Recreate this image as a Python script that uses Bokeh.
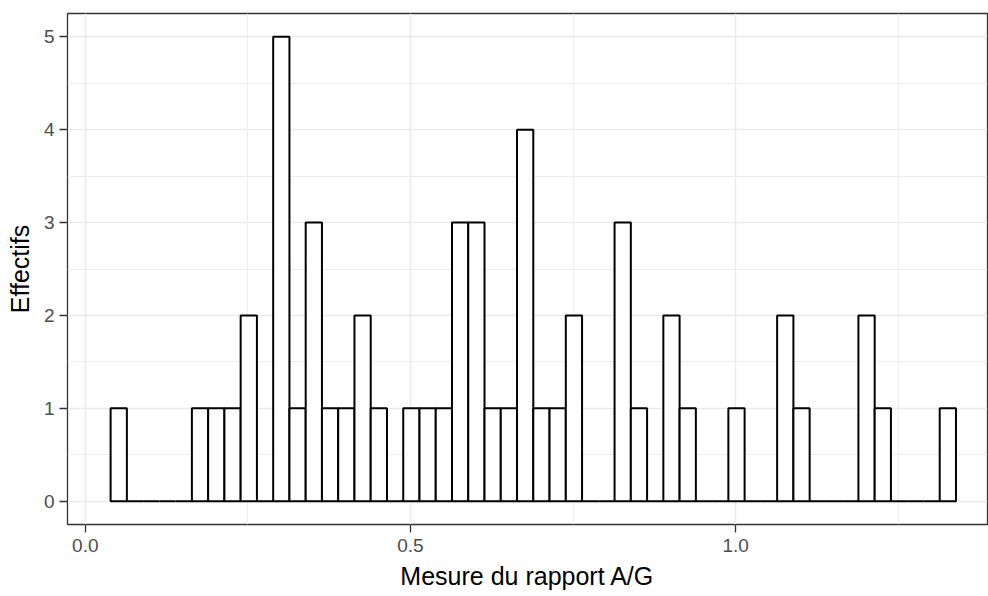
from bokeh.plotting import figure
from bokeh.models import FixedTicker, NumeralTickFormatter, ColumnDataSource, Range1d
from bokeh.embed import file_html
from bokeh.resources import INLINE

# ---- data ----
bin_start = 0.0389
bin_width = 0.025
counts = [1, 0, 0, 0, 0, 1, 1, 1, 2, 0,
          5, 1, 3, 1, 1, 2, 1, 0, 1, 1,
          1, 3, 3, 1, 1, 4, 1, 1, 2, 0,
          0, 3, 1, 0, 2, 1, 0, 0, 1, 0,
          0, 2, 1, 0, 0, 0, 2, 1, 0, 0,
          0, 1]
x_major_ticks = [0.0, 0.5, 1.0]
x_minor_ticks = [0.25, 0.75, 1.25]
y_major_ticks = [0, 1, 2, 3, 4, 5]
y_minor_ticks = [0.5, 1.5, 2.5, 3.5, 4.5]
x_title = "Mesure du rapport A/G"
y_title = "Effectifs"

lefts = [bin_start + i * bin_width for i in range(len(counts))]
rights = [l + bin_width for l in lefts]
src = ColumnDataSource(dict(left=lefts, right=rights, top=counts, bottom=[0] * len(counts)))

p = figure(width=988, height=596, output_backend="svg", toolbar_location=None,
           x_range=Range1d(-0.0274, 1.3874), y_range=Range1d(-0.25, 5.25),
           min_border_left=67, min_border_right=1, min_border_top=13, min_border_bottom=72)
p.background_fill_color = "white"
p.border_fill_color = "white"
p.outline_line_color = "#333333"
p.outline_line_width = 1.3

p.quad(left="left", right="right", top="top", bottom="bottom", source=src,
       fill_color="white", line_color="black", line_width=2)

FONT = "Liberation Sans"
for ax, ticks, minor in ((p.xaxis[0], x_major_ticks, x_minor_ticks), (p.yaxis[0], y_major_ticks, y_minor_ticks)):
    ax.ticker = FixedTicker(ticks=ticks, minor_ticks=minor)
    ax.axis_line_color = None
    ax.major_tick_line_color = "#333333"
    ax.major_tick_line_width = 1.3
    ax.major_tick_out = 8
    ax.major_tick_in = 0
    ax.minor_tick_line_color = None
    ax.major_label_text_font = FONT
    ax.major_label_text_font_size = "19px"
    ax.major_label_text_color = "#4D4D4D"
    ax.axis_label_text_font = FONT
    ax.axis_label_text_font_size = "25px"
    ax.axis_label_text_font_style = "normal"
    ax.axis_label_text_color = "black"

p.xaxis[0].formatter = NumeralTickFormatter(format="0.0")
p.xaxis[0].axis_label = x_title
p.yaxis[0].axis_label = y_title
p.xaxis[0].major_label_standoff = 6
p.xaxis[0].axis_label_standoff = 7
p.yaxis[0].major_label_standoff = 5
p.yaxis[0].axis_label_standoff = 7

for g in (p.xgrid[0], p.ygrid[0]):
    g.grid_line_color = "#EBEBEB"
    g.grid_line_width = 1.6
    g.minor_grid_line_color = "#EBEBEB"
    g.minor_grid_line_width = 0.9
p.xgrid[0].ticker = FixedTicker(ticks=x_major_ticks, minor_ticks=x_minor_ticks)
p.ygrid[0].ticker = FixedTicker(ticks=y_major_ticks, minor_ticks=y_minor_ticks)

open("out.html", "w").write(file_html(p, INLINE))
